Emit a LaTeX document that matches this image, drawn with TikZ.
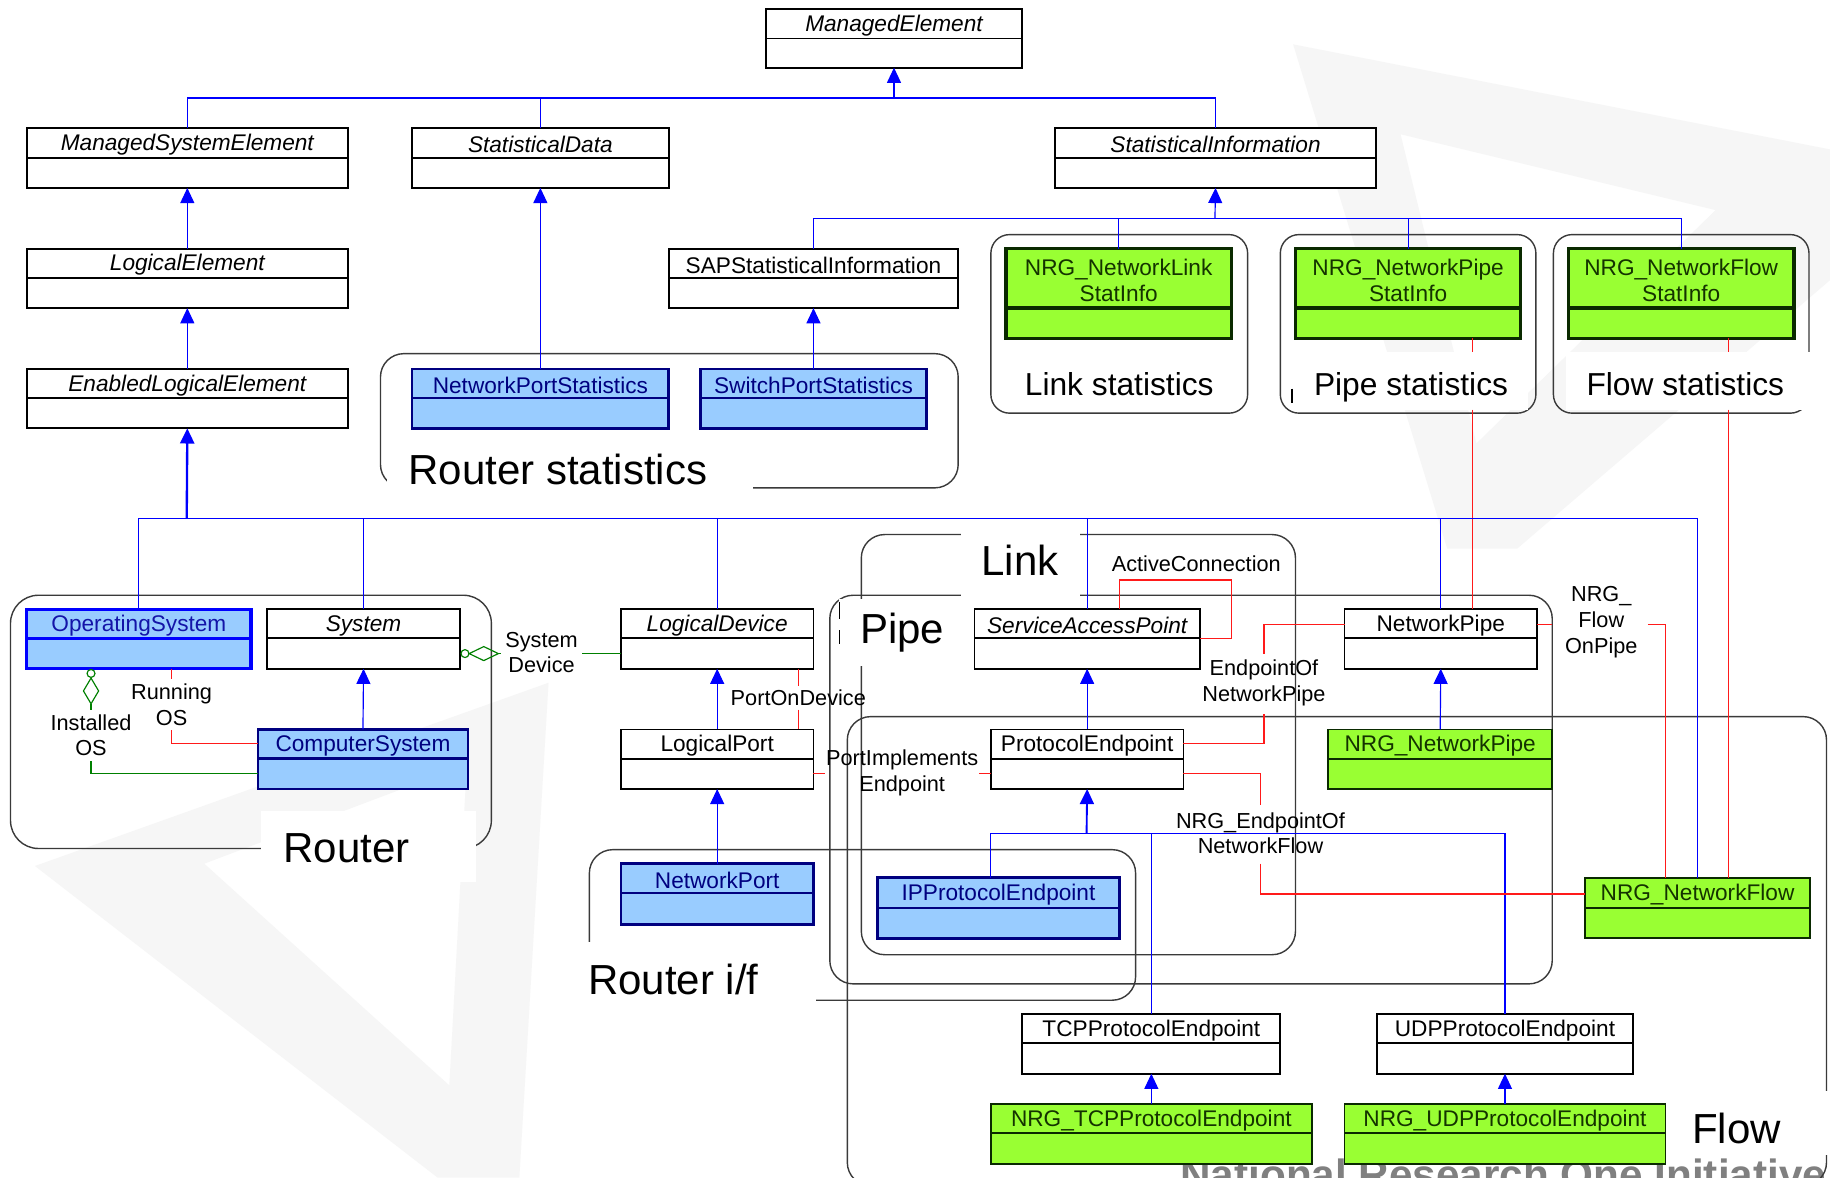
\documentclass[tikz,border=0pt]{standalone}
\usepackage{fontspec}
\setmainfont{Liberation Sans}
\usetikzlibrary{arrows.meta}
\definecolor{bfill}{HTML}{99CCFF}
\definecolor{gfill}{HTML}{99FF33}
\definecolor{navyc}{HTML}{000080}
\definecolor{dgreen}{HTML}{0A2A00}
\definecolor{gtext}{HTML}{143300}
\definecolor{lblue}{HTML}{0000FF}
\definecolor{osblue}{HTML}{1414A8}
\definecolor{assocred}{HTML}{FF1A1A}
\definecolor{aggreen}{HTML}{008000}
\definecolor{wmark}{HTML}{F6F6F6}
\definecolor{wmtext}{HTML}{808080}
\definecolor{regc}{HTML}{3A3A3A}

\newcommand\umlbox[9]{%
  \node[#7, anchor=north west, inner sep=0pt, outer sep=0pt,
        minimum width={(#4-#2)*0.5pt}, minimum height={(#5-#3)*0.5pt}] (#1) at (#2,#3) {};
  \draw[#7, fill=none] (#2,#3+#6) -- (#4,#3+#6);
  \node[#8] (#1-t) at ({(#2+#4)/2},{#3+#6/2+1.5}) {#9};
}

\begin{document}
\begin{tikzpicture}[x=0.5pt,y=-0.5pt,
  plaincls/.style={draw=black, line width=0.8pt, fill=white},
  bluecls/.style={draw=navyc, line width=1.1pt, fill=bfill},
  oscls/.style={draw=lblue, line width=1.4pt, fill=bfill},
  greenstat/.style={draw=dgreen, line width=1.5pt, fill=gfill},
  greencls/.style={draw=dgreen, line width=0.8pt, fill=gfill},
  ctext/.style={font=\fontsize{9.7}{11}\selectfont, align=center, inner sep=0pt},
  itext/.style={ctext, font=\fontsize{9.7}{11}\selectfont\itshape},
  btext/.style={ctext, text=navyc},
  ostext/.style={ctext, text=osblue},
  gtextst/.style={ctext, text=gtext},
  region/.style={draw=regc, line width=0.6pt, rounded corners=10pt},
  statregion/.style={draw=regc, line width=0.6pt, rounded corners=8pt},
  biglabel/.style={font=\fontsize{18}{20}\selectfont, inner sep=0pt, anchor=base},
  statlabel/.style={font=\fontsize{13.6}{15}\selectfont, inner sep=0pt, anchor=base},
  alabel/.style={font=\fontsize{9.3}{11}\selectfont, align=center, inner sep=0pt},
  genline/.style={draw=lblue, line width=0.5pt},
  gen/.style={draw=lblue, line width=0.5pt, -{Triangle[width=6pt,length=6.5pt]}},
  redline/.style={draw=assocred, line width=0.5pt},
  grnline/.style={draw=aggreen, line width=0.5pt},
]
\useasboundingbox (0,0) rectangle (1568,1009);
\clip (0,0) rectangle (1568,1009);
\fill[white] (0,0) rectangle (1568,1009);

% ---------- watermark ----------
\fill[wmark, even odd rule]
  (30,742) -- (470,585) -- (445,1009) -- (375,1009) -- cycle
  (175,740) -- (400,655) -- (385,930) -- cycle;
\fill[wmark, even odd rule]
  (1108,38) -- (1568,128) -- (1568,240) -- (1300,470) -- (1240,470) -- cycle
  (1200,115) -- (1470,180) -- (1265,380) -- cycle;
\node[font=\fontsize{18.1}{20}\selectfont\bfseries, text=wmtext, anchor=base, inner sep=0pt]
  (wmt) at (1288,1019) {National Research One Initiative};

% ---------- regions ----------
\draw[region] (326,303) rectangle (821,418);
\draw[statregion] (849,201) rectangle (1069,354);
\draw[statregion] (1097,201) rectangle (1316,354);
\draw[statregion] (1331,201) rectangle (1550,354);
\draw[region, rounded corners=12pt] (9,510) rectangle (421,727);
\draw[region] (505,728) rectangle (973,857);
\draw[region] (738,458) rectangle (1110,818);
\draw[region] (711,510) rectangle (1330,843);
\draw[region] (726,614) rectangle (1565,1016);

\coordinate (npx) at (1262,0);
\coordinate (nfx) at (1481,0);

% ---------- region label boxes ----------
\fill[white] (332,376) rectangle (645,426);
\fill[white] (1105,302) rectangle (1309,351);
\fill[white] (1342,302) rectangle (1552,351);
\fill[white] (224,695) rectangle (408,756);
\fill[white] (486,807) rectangle (699,870);
\fill[white] (823,450) rectangle (925,513);
\fill[white] (719,513) rectangle (823,571);
\fill[white] (1440,935) rectangle (1570,990);
\draw[black, line width=0.5pt] (1107,333) -- (1107,345);
\draw[black, line width=0.5pt] (719,516) -- (719,530) (719,540) -- (719,552);

\node[biglabel] (lrs) at (478,415) {Router statistics};
\node[statlabel] (lls) at (959,339) {Link statistics};
\node[statlabel] (lps) at (1209,339) {Pipe statistics};
\node[statlabel] (lfs) at (1444,339) {Flow statistics};
\node[biglabel] (lrt) at (297,739) {Router};
\node[biglabel] (lrif) at (577,852) {Router i/f};
\node[biglabel] (llk) at (874,493) {Link};
\node[biglabel] (lpp) at (773,551) {Pipe};
\node[biglabel] (lfl) at (1488,980) {Flow};

% ---------- class boxes ----------
\umlbox{ME}{656}{8}{876}{58}{25}{plaincls}{itext}{ManagedElement}
\umlbox{MSE}{23}{110}{298}{161}{25}{plaincls}{itext}{ManagedSystemElement}
\umlbox{SD}{353}{110}{573}{161}{25}{plaincls}{itext}{StatisticalData}
\umlbox{SI}{904}{110}{1179}{161}{25}{plaincls}{itext}{StatisticalInformation}
\umlbox{LE}{23}{213}{298}{264}{25}{plaincls}{itext}{LogicalElement}
\umlbox{SAPSI}{573}{213}{821}{264}{25}{plaincls}{ctext}{SAPStatisticalInformation}
\umlbox{NLSI}{862}{213}{1055}{290}{51}{greenstat}{gtextst}{NRG\_NetworkLink\\StatInfo}
\umlbox{NPSI}{1110}{213}{1303}{290}{51}{greenstat}{gtextst}{NRG\_NetworkPipe\\StatInfo}
\umlbox{NFSI}{1344}{213}{1537}{290}{51}{greenstat}{gtextst}{NRG\_NetworkFlow\\StatInfo}
\umlbox{ELE}{23}{316}{298}{367}{25}{plaincls}{itext}{EnabledLogicalElement}
\umlbox{NPS}{353}{316}{573}{367}{25}{bluecls}{btext}{NetworkPortStatistics}
\umlbox{SPS}{600}{316}{794}{367}{25}{bluecls}{btext}{SwitchPortStatistics}
\umlbox{OS}{23}{522}{215}{573}{25}{oscls}{ostext}{OperatingSystem}
\umlbox{SYS}{229}{522}{394}{573}{25}{plaincls}{itext}{System}
\umlbox{CS}{221}{625}{401}{676}{25}{bluecls}{btext}{ComputerSystem}
\umlbox{LD}{532}{522}{697}{573}{25}{plaincls}{itext}{LogicalDevice}
\umlbox{LP}{532}{625}{697}{676}{25}{plaincls}{ctext}{LogicalPort}
\umlbox{NP}{532}{740}{697}{792}{25}{bluecls}{btext}{NetworkPort}
\umlbox{SAP}{835}{522}{1028}{573}{25}{plaincls}{itext}{ServiceAccessPoint}
\umlbox{NPIPE}{1152}{522}{1317}{573}{25}{plaincls}{ctext}{NetworkPipe}
\umlbox{PE}{849}{625}{1014}{676}{25}{plaincls}{ctext}{ProtocolEndpoint}
\umlbox{NRGNP}{1138}{625}{1330}{676}{25}{greencls}{gtextst}{NRG\_NetworkPipe}
\umlbox{IPPE}{752}{752}{959}{804}{26}{bluecls}{btext}{IPProtocolEndpoint}
\umlbox{NRGNF}{1358}{752}{1551}{804}{26}{greencls}{gtextst}{NRG\_NetworkFlow}
\umlbox{TCP}{876}{869}{1097}{920}{25}{plaincls}{ctext}{TCPProtocolEndpoint}
\umlbox{UDP}{1180}{869}{1399}{920}{25}{plaincls}{ctext}{UDPProtocolEndpoint}
\umlbox{NTCP}{849}{946}{1124}{997}{25}{greencls}{gtextst}{NRG\_TCPProtocolEndpoint}
\umlbox{NUDP}{1152}{946}{1427}{997}{25}{greencls}{gtextst}{NRG\_UDPProtocolEndpoint}

% ---------- red lines from stat info (partly hidden by labels) ----------
\draw[redline] (NPSI.south -| npx) -- (1262,302);
\draw[redline] (1262,351) -- (NPIPE.north -| npx);
\draw[redline] (NFSI.south -| nfx) -- (1481,302);
\draw[redline] (1481,351) -- (NRGNF.north -| nfx);

% ---------- generalization (blue) ----------
\coordinate (bus1) at (766,84);
\draw[genline] (MSE.north) |- (bus1) -| (SI.north);
\draw[genline] (SD.north) -- (SD.north |- bus1);
\draw[genline, line width=1pt] (MSE.north |- bus1) -- (bus1);
\draw[gen] (bus1) -- (ME.south);
\draw[gen] (LE.north) -- (MSE.south);
\draw[gen] (ELE.north) -- (LE.south);
\draw[gen] (NPS.north) -- (SD.south);
\draw[gen] (SPS.north) -- (SAPSI.south);

\coordinate (bus2) at (1041,187);
\draw[genline] (SAPSI.north) |- (bus2) -| (NFSI.north);
\draw[genline] (NLSI.north) -- (NLSI.north |- bus2);
\draw[genline] (NPSI.north) -- (NPSI.north |- bus2);
\draw[gen] (bus2) -- (SI.south);

\coordinate (bus3) at (160,444);
\draw[genline] (OS.north) |- (bus3) -| (NRGNF.north);
\draw[genline] (SYS.north) -- (SYS.north |- bus3);
\draw[genline] (LD.north) -- (LD.north |- bus3);
\draw[genline] (SAP.north) -- (SAP.north |- bus3);
\draw[genline] (NPIPE.north) -- (NPIPE.north |- bus3);
\draw[gen, line width=1pt] (bus3) -- (ELE.south);

\draw[gen] (CS.north) -- (SYS.south);
\draw[gen] (LP.north) -- (LD.south);
\draw[gen] (NP.north) -- (LP.south);
\draw[gen] (PE.north) -- (SAP.south);
\draw[gen] (NRGNP.north) -- (NPIPE.south);

\coordinate (bus4) at (931,714);
\draw[genline] (IPPE.north -| 849,0) |- (bus4) -| (UDP.north);
\draw[genline] (TCP.north) -- (TCP.north |- bus4);
\draw[gen, line width=0.8pt] (bus4) -- (PE.south);
\draw[gen] (NTCP.north) -- (TCP.south);
\draw[gen] (NUDP.north) -- (UDP.south);

% ---------- associations (red) ----------
\draw[redline] (OS.south -| 147,0) -- (147,583);
\draw[redline] (147,625) |- (CS.west |- 0,637);
\draw[redline] (SAP.north -| 959,0) |- (1055,497) |- (SAP.east |- 0,547);
\draw[redline] (LD.south -| 684,0) -- (684,588);
\draw[redline] (684,608) -- (LP.north -| 684,0);
\draw[redline] (LP.east |- 0,663) -- (707,663);
\draw[redline] (839,663) -- (PE.west |- 0,663);
\draw[redline] (PE.east |- 0,637) -| (1083,612);
\draw[redline] (1083,560) |- (NPIPE.west |- 0,535);
\draw[redline] (PE.east |- 0,663) -| (1080,690);
\draw[redline] (1080,740) |- (NRGNF.west |- 0,766);
\draw[redline] (NPIPE.east |- 0,535) -- (1330,535);
\draw[redline] (1412,535) -| (NRGNF.north -| 1427,0);

% ---------- aggregations (green) ----------
\draw[grnline] (OS.south -| 78,0) ++(0,4) circle[radius=3.4];
\draw[grnline] (78,581) -- (84.5,592) -- (78,603) -- (71.5,592) -- cycle;
\draw[grnline] (78,603) -- (78,610);
\draw[grnline] (78,651) |- (CS.west |- 0,663);

\draw[grnline] (SYS.east |- 0,560) ++(4.4,0) circle[radius=3.4];
\draw[grnline] (402,560) -- (414.5,554) -- (427,560) -- (414.5,566) -- cycle;
\draw[grnline] (427,560) -- (432,560);
\draw[grnline] (497,560) -- (LD.west |- 0,560);

% ---------- association labels ----------
\node[alabel, fill=white, inner sep=2pt] (lsd) at (464,559) {System\\Device};
\node[alabel, fill=white, inner sep=2pt] (lro) at (147,604) {Running\\OS};
\node[alabel, fill=white, inner sep=2pt] (lio) at (78,630) {Installed\\OS};
\node[alabel] (lpod) at (684,598) {PortOnDevice};
\node[alabel] (lpie) at (773,662) {PortImplements\\Endpoint};
\node[alabel] (lac) at (1025,483) {ActiveConnection};
\node[alabel] (leop) at (1083,585) {EndpointOf\\NetworkPipe};
\node[alabel] (leof) at (1080,714) {NRG\_EndpointOf\\NetworkFlow};
\node[alabel, fill=white, inner sep=3pt] (lfop) at (1372,533) {NRG\_\\Flow\\OnPipe};
\end{tikzpicture}
\end{document}
